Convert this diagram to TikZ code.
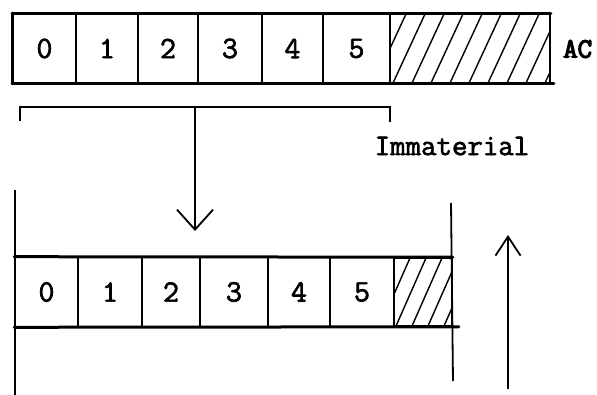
\documentclass[tikz,border=0pt]{standalone}
\usepackage{fontspec}
\newfontfamily\typewriter{Latin Modern Mono}[FakeBold=2.2]
\newfontfamily\typewriterheavy{Latin Modern Mono}[FakeBold=4.5]
\usetikzlibrary{arrows.meta}
\begin{document}
\begin{tikzpicture}[x=1pt,y=-1pt,
  digit/.style={font=\fontsize{31}{32}\typewriter},
  cell/.style={draw=black, line width=1.6pt, minimum height=69pt, inner sep=0pt, digit},
  rowedge/.style={line width=3pt, line cap=round},
  hatch/.style={line width=1.4pt},
  bracket/.style={line width=2.2pt},
  barb/.style={line width=1.8pt, -{Straight Barb[length=20pt,width=36pt,line width=1.8pt]}},
  label/.style={font=\fontsize{30}{32}\typewriter, inner sep=0pt}]
\useasboundingbox (0,0) rectangle (597,395);

% upper register (AC)
\foreach \n/\a/\b in {0/13/76,1/76/138,2/138/198,3/198/262,4/262/323,5/323/390}
  \node[cell, minimum width={\b-\a}] (t\n) at ({(\a+\b)/2},48.5) {\n};
\node[draw=black, line width=1.6pt, minimum width=160pt, minimum height=69pt, inner sep=0pt]
  (thatch) at (470,48.5) {};
\begin{scope}
  \clip (390,14) rectangle (550,83);
  \foreach \x in {374,393,...,560}
    \draw[hatch] (\x,83) -- (\x+32,14);
\end{scope}
\draw[rowedge] (t0.north west) -- (thatch.north east);
\draw[rowedge] (t0.south west) -- ([xshift=3pt]thatch.south east);
\draw[rowedge] (t0.north west) -- (t0.south west);
\node[font=\fontsize{28}{30}\typewriterheavy, anchor=west, inner sep=0pt]
  (ac) at (563,49) {AC};

% bracket over bits 0--5
\coordinate (bl) at (20,107);
\coordinate (brk) at (390,107);
\coordinate (bmid) at (195,107);
\draw[bracket] ([yshift=-14pt]bl) -- (bl) -- (brk) -- ([yshift=-15pt]brk);
\coordinate (dtip) at (195,231);
\draw[barb] (bmid) -- (dtip);

\node[label] (imm) at (452,146) {Immaterial};

% lower register
\foreach \n/\a/\b in {0/15/78,1/78/142,2/142/200,3/200/268,4/268/330,5/330/394}
  \node[cell, minimum width={\b-\a}] (b\n) at ({(\a+\b)/2},292) {\n};
\node[draw=black, line width=1.6pt, minimum width=58pt, minimum height=68pt, inner sep=0pt]
  (bhatch) at (423,292) {};
\begin{scope}
  \clip (394,258) rectangle (452,326);
  \foreach \x in {380,396,...,460}
    \draw[hatch] (\x,326) -- (\x+30,258);
\end{scope}
\draw[rowedge] (b0.north west) -- (bhatch.north east);
\draw[rowedge] (b0.south west) -- ([xshift=6pt]bhatch.south east);

% boundary lines of the lower word
\coordinate (ltop) at (15,190);
\coordinate (lbot) at (15,395);
\draw[line width=2.6pt] (ltop) -- (lbot);
\coordinate (rtop) at (451,203);
\coordinate (rbot) at (453,381);
\draw[line width=1.8pt] (rtop) -- (rbot);

% upward arrow
\coordinate (ubot) at (508,389);
\coordinate (utip) at (508,235);
\draw[line width=1.8pt, -{Straight Barb[length=19pt,width=25pt,line width=1.8pt]}] (ubot) -- (utip);
\end{tikzpicture}
\end{document}
